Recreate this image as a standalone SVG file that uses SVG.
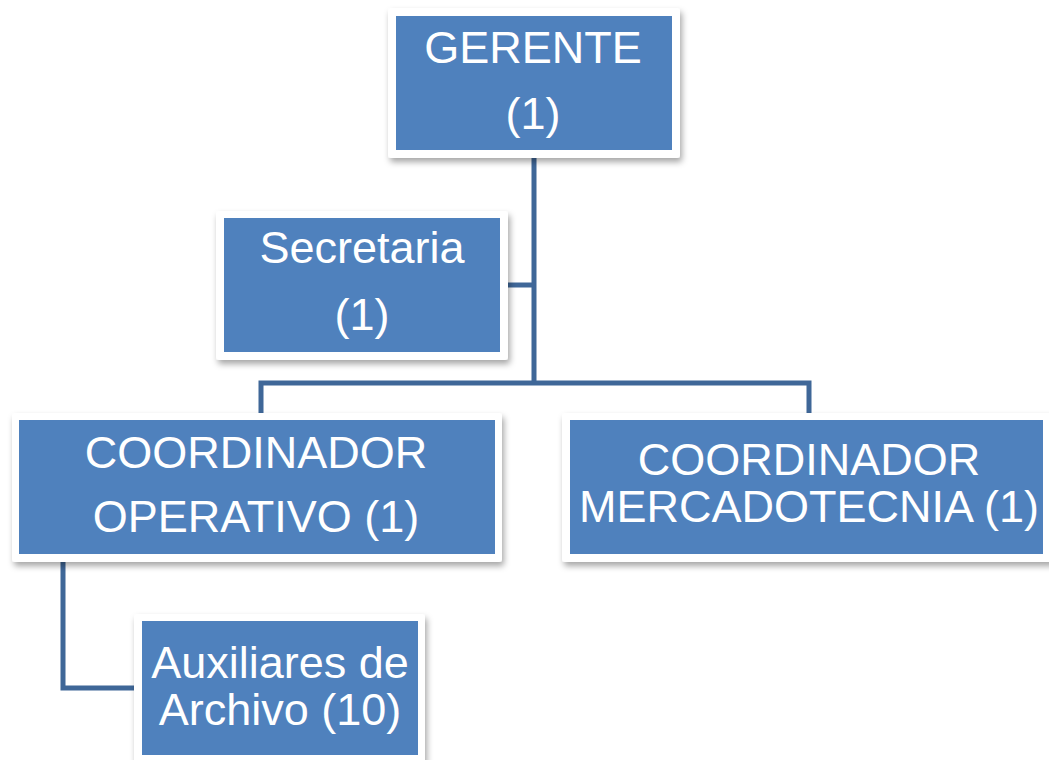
<svg xmlns="http://www.w3.org/2000/svg" width="1049" height="760" viewBox="0 0 1049 760">
<defs>
<filter id="sh" x="-10%" y="-10%" width="125%" height="130%">
<feDropShadow dx="2" dy="4" stdDeviation="3" flood-color="#000" flood-opacity="0.35"/>
</filter>
<style>
.frame{fill:#fff;filter:url(#sh)}
.box{fill:#4F81BD}
.t{font-family:"Liberation Sans",Arial,sans-serif;font-size:45px;fill:#fff;text-anchor:middle}
.c{fill:none;stroke:#3F6798;stroke-width:5;stroke-linejoin:miter}
</style>
</defs>
<rect width="1049" height="760" fill="#fff"/>
<g id="connectors">
<path class="c" d="M534 158V383"/>
<path class="c" d="M508 285H534"/>
<path class="c" d="M261 413V383H809V413"/>
<path class="c" d="M63 562V688H136"/>
</g>
<g id="gerente">
<rect class="frame" x="388" y="8" width="292" height="150" rx="3"/>
<rect class="box" x="396" y="16" width="276" height="134"/>
<text class="t" x="533" y="63">GERENTE</text>
<text class="t" x="533" y="129">(1)</text>
</g>
<g id="secretaria">
<rect class="frame" x="216" y="211" width="292" height="149" rx="3"/>
<rect class="box" x="224" y="218" width="276" height="134"/>
<text class="t" x="362" y="263">Secretaria</text>
<text class="t" x="362" y="330">(1)</text>
</g>
<g id="coord-operativo">
<rect class="frame" x="12" y="413" width="490" height="149" rx="3"/>
<rect class="box" x="19" y="420" width="476" height="134"/>
<text class="t" x="256" y="468">COORDINADOR</text>
<text class="t" x="256" y="532">OPERATIVO (1)</text>
</g>
<g id="coord-mercadotecnia">
<rect class="frame" x="562" y="413" width="492" height="149" rx="3"/>
<rect class="box" x="570" y="420" width="473" height="134"/>
<text class="t" x="809" y="475">COORDINADOR</text>
<text class="t" x="809" y="522">MERCADOTECNIA (1)</text>
</g>
<g id="auxiliares">
<rect class="frame" x="134" y="614" width="291" height="152" rx="3"/>
<rect class="box" x="142" y="621" width="276" height="134"/>
<text class="t" x="280" y="678">Auxiliares de</text>
<text class="t" x="280" y="725">Archivo (10)</text>
</g>
</svg>
